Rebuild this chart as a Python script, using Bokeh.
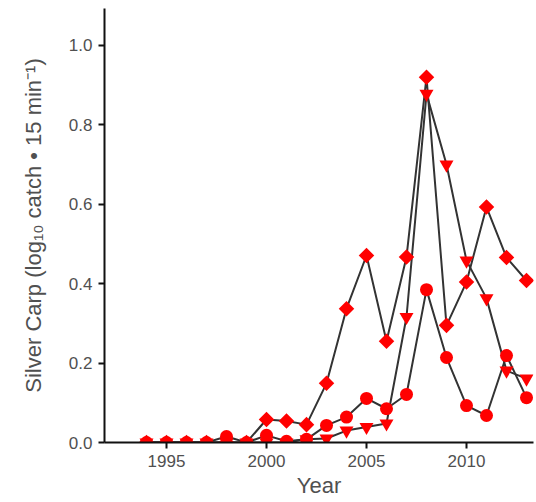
from bokeh.plotting import figure
from bokeh.models import Range1d, FixedTicker, PrintfTickFormatter
from bokeh.embed import file_html
from bokeh.resources import INLINE
import numpy as np

years = list(range(1994, 2014))
diamond_vals = [0, 0, 0, 0, 0, 0, 0.058, 0.054, 0.045, 0.149, 0.337, 0.471, 0.255, 0.467,
                0.92, 0.295, 0.404, 0.593, 0.466, 0.408]
circle_vals = [0, 0, 0, 0, 0.015, 0, 0.018, 0.003, 0.008, 0.043, 0.064, 0.111, 0.085, 0.121,
               0.385, 0.214, 0.093, 0.068, 0.219, 0.113]
triangle_vals = [0, 0, 0, 0, 0, 0, 0, 0, 0.008, 0.01, 0.03, 0.039, 0.048, 0.316,
                 0.878, 0.70, 0.458, 0.363, 0.181, 0.161]
x_ticks = [1995, 2000, 2005, 2010]
y_ticks = [0.0, 0.2, 0.4, 0.6, 0.8, 1.0]

p = figure(width=536, height=502, output_backend="svg", toolbar_location=None,
           x_range=Range1d(1991.9, 2013.35), y_range=Range1d(0, 1.093),
           min_border_left=104, min_border_right=3, min_border_top=8, min_border_bottom=60)
p.outline_line_color = None
p.grid.visible = False

line_color = "#333333"
for vals in (diamond_vals, circle_vals, triangle_vals):
    p.line(years, vals, line_color=line_color, line_width=2)

p.scatter(years, circle_vals, marker="circle", size=13, fill_color="#ff0000", line_color=None)
p.scatter(years, triangle_vals, marker="inverted_triangle", size=14, fill_color="#ff0000", line_color=None)
p.scatter(years, diamond_vals, marker="square", angle=np.pi / 4, size=11, fill_color="#ff0000", line_color=None)

text_color = "#505050"
for ax in (p.xaxis[0], p.yaxis[0]):
    ax.axis_line_color = "#111111"
    ax.axis_line_width = 2
    ax.major_tick_line_color = "#111111"
    ax.major_tick_line_width = 2
    ax.major_tick_in = 0
    ax.major_tick_out = 6
    ax.minor_tick_line_color = None
    ax.major_label_text_font = "Liberation Sans"
    ax.major_label_text_font_size = "17px"
    ax.major_label_text_color = text_color
    ax.axis_label_text_font = "Liberation Sans"
    ax.axis_label_text_font_style = "normal"
    ax.axis_label_text_color = text_color
    ax.major_label_standoff = 6

p.xaxis.ticker = FixedTicker(ticks=x_ticks)
p.yaxis.ticker = FixedTicker(ticks=y_ticks)
p.yaxis.formatter = PrintfTickFormatter(format="%.1f")
p.xaxis.axis_label = "Year"
p.xaxis.axis_label_text_font_size = "22px"
p.xaxis.axis_label_standoff = 3
p.yaxis.axis_label = "Silver Carp (log\u2081\u2080 catch \u2022 15 min\u207b\u00b9)"
p.yaxis.axis_label_text_font_size = "22px"
p.yaxis.axis_label_standoff = 20

open("out.html", "w").write(file_html(p, INLINE))
